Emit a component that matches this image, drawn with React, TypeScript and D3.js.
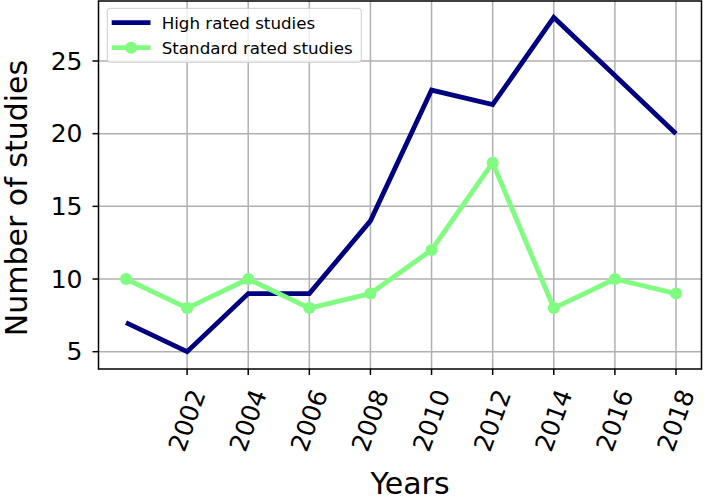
import React from "react";
import * as d3 from "d3";

const years = [2000, 2002, 2004, 2006, 2008, 2010, 2012, 2014, 2016, 2018];
const highRated = [7, 5, 9, 9, 14, 23, 22, 28, 24, 20];
const standardRated = [10, 8, 10, 8, 9, 12, 18, 8, 10, 9];
const xTicks = [2002, 2004, 2006, 2008, 2010, 2012, 2014, 2016, 2018];
const yTicks = [5, 10, 15, 20, 25];
const seriesNames = ["High rated studies", "Standard rated studies"];

const W = 704;
const H = 502;
const frame = { left: 98.5, right: 701.5, top: 1, bottom: 369 };
const FONT = "DejaVu Sans, sans-serif";
const NAVY = "#000080";
const GREEN = "#80fd80";

export default function App() {
  const x = d3.scaleLinear().domain([2000, 2018]).range([126, 676]);
  const y = d3.scaleLinear().domain([5, 25]).range([351.7, 61]);

  const line = d3
    .line<[number, number]>()
    .x((d) => x(d[0]))
    .y((d) => y(d[1]));

  const highPts = years.map((yr, i) => [yr, highRated[i]] as [number, number]);
  const stdPts = years.map((yr, i) => [yr, standardRated[i]] as [number, number]);

  const rot = 70;
  const labelTop = 388;
  const labelH = 65;

  return (
    <svg
      width={W}
      height={H}
      style={{ position: "absolute", left: 0, top: 0, background: "#fff" }}
      fontFamily={FONT}
    >
      <rect x={0} y={0} width={W} height={H} fill="#fff" />
      {/* grid */}
      <g stroke="#b0b0b0" strokeWidth={1.5}>
        {xTicks.map((t) => (
          <line key={"gx" + t} x1={x(t)} x2={x(t)} y1={frame.top} y2={frame.bottom} />
        ))}
        {yTicks.map((t) => (
          <line key={"gy" + t} x1={frame.left} x2={frame.right} y1={y(t)} y2={y(t)} />
        ))}
      </g>
      {/* lines */}
      <path
        d={line(highPts) || ""}
        fill="none"
        stroke={NAVY}
        strokeWidth={4.8}
        strokeLinejoin="miter"
      />
      <path
        d={line(stdPts) || ""}
        fill="none"
        stroke={GREEN}
        strokeWidth={4.8}
        strokeLinejoin="round"
      />
      {stdPts.map((p, i) => (
        <circle key={"m" + i} cx={x(p[0])} cy={y(p[1])} r={6} fill={GREEN} />
      ))}
      {/* frame */}
      <rect
        x={frame.left}
        y={frame.top}
        width={frame.right - frame.left}
        height={frame.bottom - frame.top}
        fill="none"
        stroke="#000"
        strokeWidth={1.5}
      />
      {/* y ticks */}
      {yTicks.map((t) => (
        <g key={"yt" + t}>
          <line x1={frame.left - 6} x2={frame.left} y1={y(t)} y2={y(t)} stroke="#000" strokeWidth={1.5} />
          <text
            x={frame.left - 16}
            y={y(t)}
            textAnchor="end"
            dominantBaseline="central"
            fontSize={25}
            fill="#000"
          >
            {t}
          </text>
        </g>
      ))}
      {/* x ticks */}
      {xTicks.map((t) => (
        <g key={"xt" + t}>
          <line x1={x(t)} x2={x(t)} y1={frame.bottom} y2={frame.bottom + 6} stroke="#000" strokeWidth={1.5} />
          <text
            transform={`translate(${x(t)},${labelTop + labelH / 2}) rotate(${-rot})`}
            textAnchor="middle"
            dominantBaseline="central"
            fontSize={25}
            fill="#000"
          >
            {t}
          </text>
        </g>
      ))}
      {/* axis labels */}
      <text x={410} y={494} textAnchor="middle" fontSize={30} fill="#000">
        Years
      </text>
      <text
        transform={`translate(27,198) rotate(-90)`}
        textAnchor="middle"
        fontSize={30}
        fill="#000"
      >
        Number of studies
      </text>
      {/* legend */}
      <rect
        x={107.3}
        y={8.3}
        width={254}
        height={54}
        rx={3}
        fill="#fff"
        fillOpacity={0.8}
        stroke="#cccccc"
        strokeWidth={1}
      />
      <line x1={111.7} x2={150.5} y1={22.7} y2={22.7} stroke={NAVY} strokeWidth={4.8} />
      <line x1={111.7} x2={150.5} y1={47.7} y2={47.7} stroke={GREEN} strokeWidth={4.8} />
      <circle cx={131.1} cy={47.7} r={6} fill={GREEN} />
      <text x={161.7} y={22.7} dominantBaseline="central" fontSize={16.7} fill="#000">
        {seriesNames[0]}
      </text>
      <text x={161.7} y={47.7} dominantBaseline="central" fontSize={16.7} fill="#000">
        {seriesNames[1]}
      </text>
    </svg>
  );
}
